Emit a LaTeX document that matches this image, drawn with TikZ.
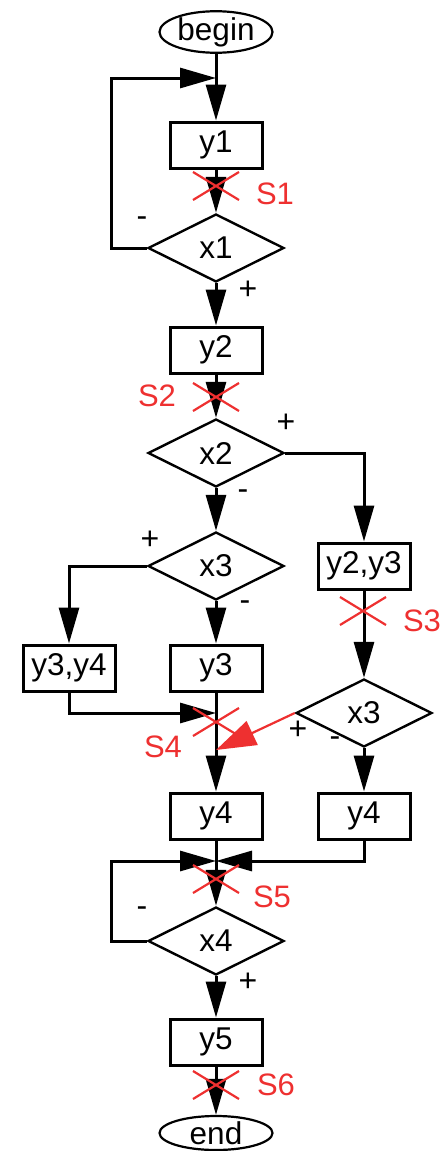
\documentclass[tikz,border=0pt]{standalone}
\usepackage{fontspec}
\setmainfont{Liberation Sans}
\usepackage{tikz}
\usetikzlibrary{positioning,arrows.meta,shapes.geometric}
\usepackage{xcolor}
\definecolor{sred}{RGB}{238,48,48}

\begin{document}
\begin{tikzpicture}[x=1pt,y=-1pt,>={Triangle[length=36pt,width=20pt]},line width=3pt,
  op/.style={draw,rectangle,line width=3pt,minimum width=92pt,minimum height=46pt,inner sep=0pt,font=\fontsize{31.5}{33}\selectfont},
  cond/.style={draw,diamond,line width=2.4pt,minimum width=136pt,minimum height=68pt,inner sep=0pt,font=\fontsize{31.5}{33}\selectfont},
  term/.style={draw,ellipse,line width=2.2pt,minimum width=113pt,minimum height=34pt,inner sep=0pt,font=\fontsize{31.5}{33}\selectfont},
  sgn/.style={font=\fontsize{32}{33}\selectfont,inner sep=0pt},
  cutlbl/.style={font=\fontsize{31}{32}\selectfont,text=sred,inner sep=0pt}]
\useasboundingbox (0,0) rectangle (441,1151);
% main column
\node[term] (begin) at (216,32) {begin};
\coordinate (j1) at (216,78);
\node[op] (y1) at (216,145) {y1};
\node[cond] (x1) at (216,248) {x1};
\node[op] (y2) at (216,350) {y2};
\node[cond] (x2) at (216,453) {x2};
\node[cond] (x3a) at (216,566) {x3};
\node[op] (y34) at (69,668) {y3,y4};
\node[op] (y3) at (216,668) {y3};
\coordinate (j2) at (216,713);
\coordinate (j3) at (216,750);
\node[op] (y4a) at (216,816) {y4};
\coordinate (j4) at (216,861);
\node[cond] (x4) at (216,941) {x4};
\node[op] (y5) at (216,1042) {y5};
\node[term] (end) at (216,1133) {end};
% right branch
\node[op] (y23) at (364,566) {y2,y3};
\node[cond] (x3b) at (364,713) {x3};
\node[op] (y4b) at (364,816) {y4};

\draw (begin) -- (j1);
\draw[->] (j1) -- (y1);
\draw[->] (x1.west) -- ++(-35,0) |- (j1);
\draw[->] (y1) -- (x1);
\draw[->] (x1) -- (y2);
\draw[->] (y2) -- (x2);
\draw[->] (x2.east) -| (y23.north);
\draw[->] (x2) -- (x3a);
\draw[->] (x3a.west) -| (y34.north);
\draw[->] (x3a) -- (y3);
\draw[->] (y34.south) |- (j2);
\draw[->] (y3) -- (y4a);
\draw[->] (y23) -- (x3b);
\draw[->] (x3b) -- (y4b);
\draw[->,sred,line width=2.2pt,>={Triangle[length=40pt,width=26pt]}] (x3b.west) -- (j3);
\draw[->] (y4a) -- (x4);
\draw[->] (y4b.south) |- (j4);
\draw[->] (x4.west) -- ++(-35,0) |- (j4);
\draw[->] (x4) -- (y5);
\draw[->] (y5) -- (end);

% branch signs
\node[sgn] (m1) at (142,222) {-};
\node[sgn] (p1) at (248,290) {+};
\node[sgn] (p2) at (286,423) {+};
\node[sgn] (m2) at (243,495) {-};
\node[sgn] (p3) at (150,540) {+};
\node[sgn] (m3) at (245,606) {-};
\node[sgn] (p4) at (298,730) {+};
\node[sgn] (m4) at (335,742) {-};
\node[sgn] (m5) at (142,912) {-};
\node[sgn] (p5) at (248,982) {+};

% cut points
\foreach \cx/\cy/\lx/\ly/\t in {216/186/275/194/S1, 216/397/157/396/S2, 363/611/422/621/S3,
  216/722/163/747/S4, 216/879/272/897/S5, 216/1085/276/1085/S6}{
  \draw[sred,line width=2.2pt] ({\cx-23},{\cy-14}) -- ({\cx+23},{\cy+14});
  \draw[sred,line width=2.2pt] ({\cx-23},{\cy+14}) -- ({\cx+23},{\cy-14});
  \node[cutlbl] (\t) at (\lx,\ly) {\t};
}
\end{tikzpicture}
\end{document}
